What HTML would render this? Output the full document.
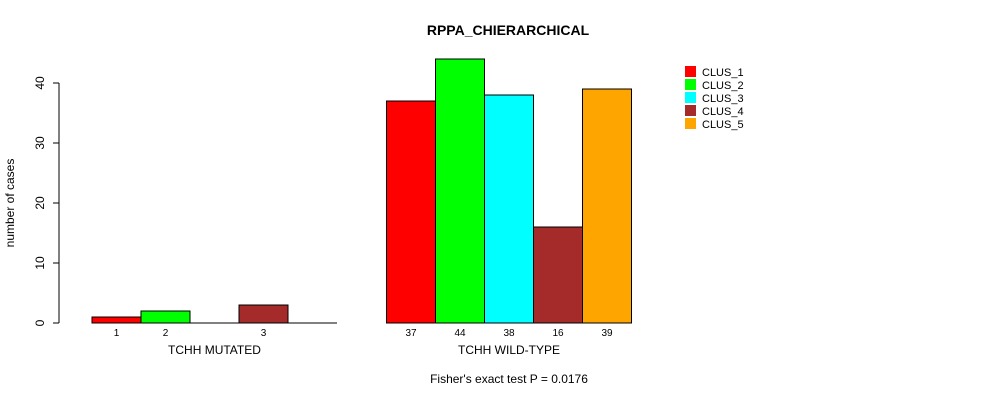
<!DOCTYPE html>
<html><head><meta charset="utf-8"><style>
body{margin:0;background:#fff}
svg text{font-family:"Liberation Sans",sans-serif}
</style></head><body>
<svg id="chart" width="990" height="400" viewBox="0 0 990 400" xmlns="http://www.w3.org/2000/svg">
<text x="508" y="35" text-anchor="middle" font-size="14" font-weight="bold">RPPA_CHIERARCHICAL</text>
<text transform="translate(14,203) rotate(-90)" text-anchor="middle" font-size="12">number of cases</text>
<text x="509" y="383" text-anchor="middle" font-size="12">Fisher's exact test P = 0.0176</text>
<g id="axis"></g><g id="bars"></g><g id="legend"></g>
</svg>
<script>
const groups=["TCHH MUTATED","TCHH WILD-TYPE"];
const clusters=["CLUS_1","CLUS_2","CLUS_3","CLUS_4","CLUS_5"];
const colors=["#ff0000","#00ff00","#00ffff","#a52a2a","#ffa500"];
const mutated=[1,2,0,3,0];
const wildtype=[37,44,38,16,39];
const yTicks=[0,10,20,30,40];
const NS="http://www.w3.org/2000/svg";
const y0=323,pxPer=6,barW=49;
const groupStart=[92,386.5];
function y(v){return y0-v*pxPer;}
function mk(tag,attrs,parent){const e=document.createElementNS(NS,tag);for(const k in attrs)e.setAttribute(k,attrs[k]);parent.appendChild(e);return e;}
const ax=document.getElementById('axis');
let a=mk('line',{x1:59,x2:59,y1:y(0),y2:y(40),stroke:'#000'},ax);


yTicks.forEach(t=>{
 const l=mk('line',{x1:53,x2:59,y1:y(t),y2:y(t),stroke:'#000'},ax);
 
 
 const tx=mk('text',{transform:`translate(44,${y(t)}) rotate(-90)`,'text-anchor':'middle','font-size':12},ax);
 tx.textContent=t;
 
 
});
const bg=document.getElementById('bars');
[mutated,wildtype].forEach((vals,g)=>{
 const gs=groupStart[g];
 const bl=mk('line',{x1:gs,x2:gs+barW*5,y1:y0,y2:y0,stroke:'#000'},bg);
 
 
 vals.forEach((v,i)=>{
  const x=gs+i*barW;
  if(v>0){
   const r=mk('rect',{x:x,y:y(v),width:barW,height:v*pxPer,fill:colors[i],stroke:'#000'},bg);
   
   
   const t=mk('text',{x:x+barW/2,y:336,'text-anchor':'middle','font-size':10},bg);
   t.textContent=v;
   
   
  }
 });
 const gl=mk('text',{x:gs+barW*2.5,y:354,'text-anchor':'middle','font-size':12},bg);
 gl.textContent=groups[g];
 
 
});
const lg=document.getElementById('legend');
clusters.forEach((c,i)=>{
 const r=mk('rect',{x:685,y:66+i*13,width:11,height:11,fill:colors[i]},lg);
 
 
 const t=mk('text',{x:702,y:76+i*13,'font-size':11},lg);
 t.textContent=c;
 
 
});
</script>
</body></html>
